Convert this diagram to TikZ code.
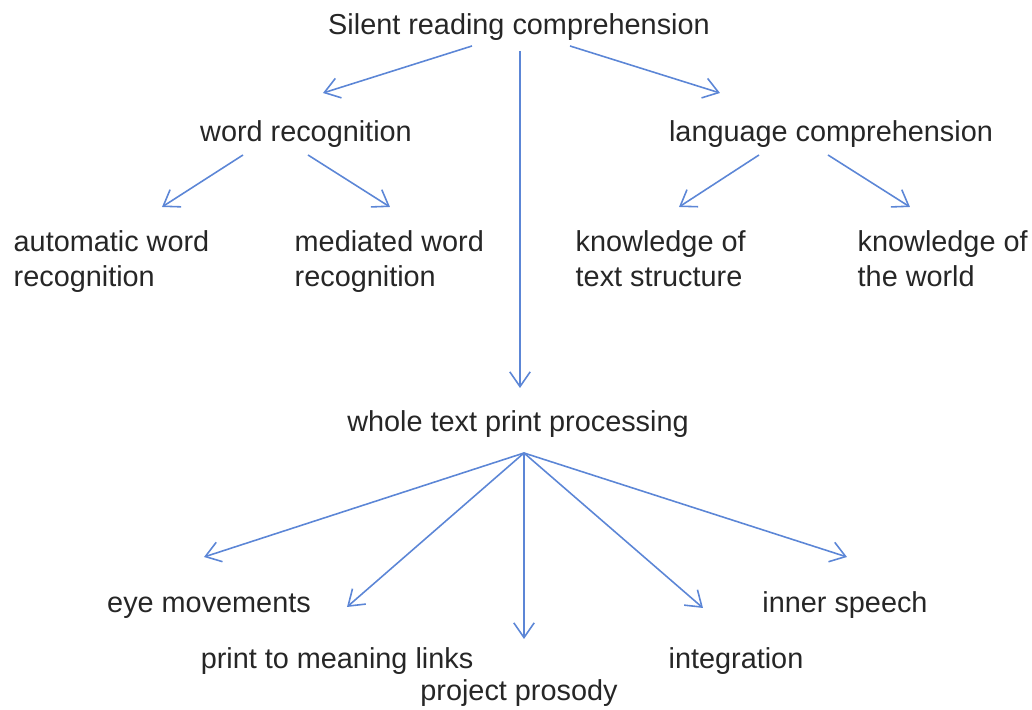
\documentclass[tikz,border=0pt]{standalone}
\usepackage{fontspec}
\setmainfont{Liberation Sans}
\usetikzlibrary{arrows.meta}

\definecolor{linkblue}{RGB}{92,134,214}

\begin{document}
\begin{tikzpicture}[x=0.01cm, y=-0.01cm,
  label node/.style={inner sep=0pt, font=\fontsize{8.2}{10}\selectfont, text=black!85},
  two line/.style={label node, align=left, anchor=base west},
  link/.style={draw=linkblue, line width=0.45pt, -{Straight Barb[length=4.2pt,width=5.8pt]}}]

\useasboundingbox (0,0) rectangle (1032,710);

% labels
\node[label node, anchor=base] (src) at (519,35) {Silent reading comprehension};
\node[label node, anchor=base] (wr) at (306,142) {word recognition};
\node[label node, anchor=base] (lc) at (831,142) {language comprehension};
\node[two line] (awr) at (13,287) {automatic word\\recognition};
\node[two line] (mwr) at (294,287) {mediated word\\recognition};
\node[two line] (kts) at (575,287) {knowledge of\\text structure};
\node[two line] (ktw) at (857,287) {knowledge of\\the world};
\node[label node, anchor=base] (wtp) at (518,432) {whole text print processing};
\node[label node, anchor=base] (eye) at (209,613) {eye movements};
\node[label node, anchor=base] (ptm) at (337,669) {print to meaning links};
\node[label node, anchor=base] (pro) at (519,701) {project prosody};
\node[label node, anchor=base] (int) at (736,669) {integration};
\node[label node, anchor=base] (ins) at (845,613) {inner speech};

% arrow ends
\coordinate (src-l) at (472,46);  \coordinate (wr-top) at (323,93);
\coordinate (src-m) at (520,51);  \coordinate (wtp-top) at (520,388);
\coordinate (src-r) at (570,46);  \coordinate (lc-top) at (720,93);
\coordinate (wr-l) at (243,155);  \coordinate (awr-top) at (162,207);
\coordinate (wr-r) at (308,155);  \coordinate (mwr-top) at (390,207);
\coordinate (lc-l) at (759,155);  \coordinate (kts-top) at (679,207);
\coordinate (lc-r) at (828,155);  \coordinate (ktw-top) at (910,207);
\coordinate (wtp-hub) at (524,453);
\coordinate (eye-top) at (204,557);
\coordinate (ptm-top) at (347,607);
\coordinate (pro-top) at (524,639);
\coordinate (int-top) at (703,608);
\coordinate (ins-top) at (847,557);

\path[every edge/.style={link}]
(src-l) edge (wr-top)
(src-m) edge (wtp-top)
(src-r) edge (lc-top)
(wr-l) edge (awr-top)
(wr-r) edge (mwr-top)
(lc-l) edge (kts-top)
(lc-r) edge (ktw-top)
;

\foreach \target in {eye,ptm,pro,int,ins}
  \draw[link] (wtp-hub) -- (\target-top);

\end{tikzpicture}
\end{document}
